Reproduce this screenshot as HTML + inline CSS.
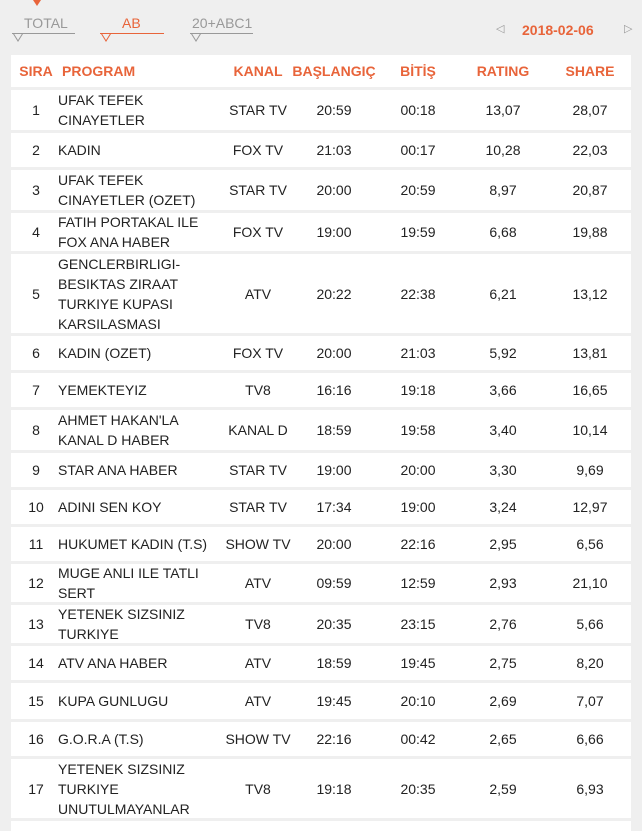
<!DOCTYPE html>
<html><head><meta charset="utf-8"><style>
body{margin:0;width:642px;height:823px;background:#efefef;font-family:"Liberation Sans",Arial,sans-serif;overflow:hidden;position:relative;color:#222}
.a{position:absolute}
.tab{position:absolute;top:15px;font-size:14px;color:#999}
.ul{position:absolute;top:33px;height:1px;background:#999}
.row{position:absolute;left:11px;width:620px;background:#fff;font-size:14px}
.c{position:absolute;top:0;height:100%;display:flex;align-items:center;line-height:20px;white-space:nowrap}
.cc{justify-content:center}
.hd{color:#e8643a;font-weight:bold}
</style></head><body>
<div class="a" style="left:33px;top:0;width:0;height:0;border-left:4px solid transparent;border-right:4px solid transparent;border-top:6px solid #e8643a"></div>
<div class="tab" style="left:24px">TOTAL</div>
<div class="ul" style="left:12px;width:63px"></div>
<svg class="a" style="left:12px;top:33px" width="16" height="9"><polyline points="1,0 6,8 11,0" fill="none" stroke="#999" stroke-width="1"/></svg>
<div class="tab" style="left:122px;color:#e8643a">AB</div>
<div class="ul" style="left:100px;width:64px;background:#e8643a"></div>
<svg class="a" style="left:100px;top:33px" width="16" height="9"><polyline points="1,0 6,8 11,0" fill="none" stroke="#e8643a" stroke-width="1"/></svg>
<div class="tab" style="left:192px">20+ABC1</div>
<div class="ul" style="left:190px;width:63px"></div>
<svg class="a" style="left:190px;top:33px" width="16" height="9"><polyline points="1,0 6,8 11,0" fill="none" stroke="#999" stroke-width="1"/></svg>
<div class="a" style="left:496px;top:22px;font-size:11px;color:#999">◁</div>
<div class="a" style="left:522px;top:22px;font-size:14px;font-weight:bold;color:#e8643a">2018-02-06</div>
<div class="a" style="left:624px;top:22px;font-size:11px;color:#999">▷</div>

<div id="t"></div>
<script>
const w=[[5,40],[47,170],[207,80],[273,100],[377,60],[452,80],[539,80]];
const rows=[
[55,32,["SIRA","PROGRAM","KANAL","BAŞLANGIÇ","BİTİŞ","RATING","SHARE"],1],
[90,40,["1","UFAK TEFEK<br>CINAYETLER","STAR TV","20:59","00:18","13,07","28,07"]],
[133,34,["2","KADIN","FOX TV","21:03","00:17","10,28","22,03"]],
[170,40,["3","UFAK TEFEK<br>CINAYETLER (OZET)","STAR TV","20:00","20:59","8,97","20,87"]],
[213,38,["4","FATIH PORTAKAL ILE<br>FOX ANA HABER","FOX TV","19:00","19:59","6,68","19,88"]],
[254,79,["5","GENCLERBIRLIGI-<br>BESIKTAS ZIRAAT<br>TURKIYE KUPASI<br>KARSILASMASI","ATV","20:22","22:38","6,21","13,12"]],
[336,34,["6","KADIN (OZET)","FOX TV","20:00","21:03","5,92","13,81"]],
[373,34,["7","YEMEKTEYIZ","TV8","16:16","19:18","3,66","16,65"]],
[410,40,["8","AHMET HAKAN'LA<br>KANAL D HABER","KANAL D","18:59","19:58","3,40","10,14"]],
[453,34,["9","STAR ANA HABER","STAR TV","19:00","20:00","3,30","9,69"]],
[490,34,["10","ADINI SEN KOY","STAR TV","17:34","19:00","3,24","12,97"]],
[527,34,["11","HUKUMET KADIN (T.S)","SHOW TV","20:00","22:16","2,95","6,56"]],
[564,38,["12","MUGE ANLI ILE TATLI<br>SERT","ATV","09:59","12:59","2,93","21,10"]],
[605,38,["13","YETENEK SIZSINIZ<br>TURKIYE","TV8","20:35","23:15","2,76","5,66"]],
[646,34,["14","ATV ANA HABER","ATV","18:59","19:45","2,75","8,20"]],
[683,36,["15","KUPA GUNLUGU","ATV","19:45","20:10","2,69","7,07"]],
[722,34,["16","G.O.R.A (T.S)","SHOW TV","22:16","00:42","2,65","6,66"]],
[759,59,["17","YETENEK SIZSINIZ<br>TURKIYE<br>UNUTULMAYANLAR","TV8","19:18","20:35","2,59","6,93"]],
[821,10,["","","","","","",""]]];
let h="";
for(const r of rows){h+=`<div class="row${r[3]?' hd':''}" style="top:${r[0]}px;height:${r[1]}px">`;
r[2].forEach((t,i)=>{let l=w[i][0];if(r[3]&&i==1)l=51;h+=`<div class="c${i==1?'':' cc'}" style="left:${l}px;width:${w[i][1]}px">${i==1?'<div>'+t+'</div>':t}</div>`});h+="</div>";}
document.getElementById("t").innerHTML=h;
</script>
</body></html>
